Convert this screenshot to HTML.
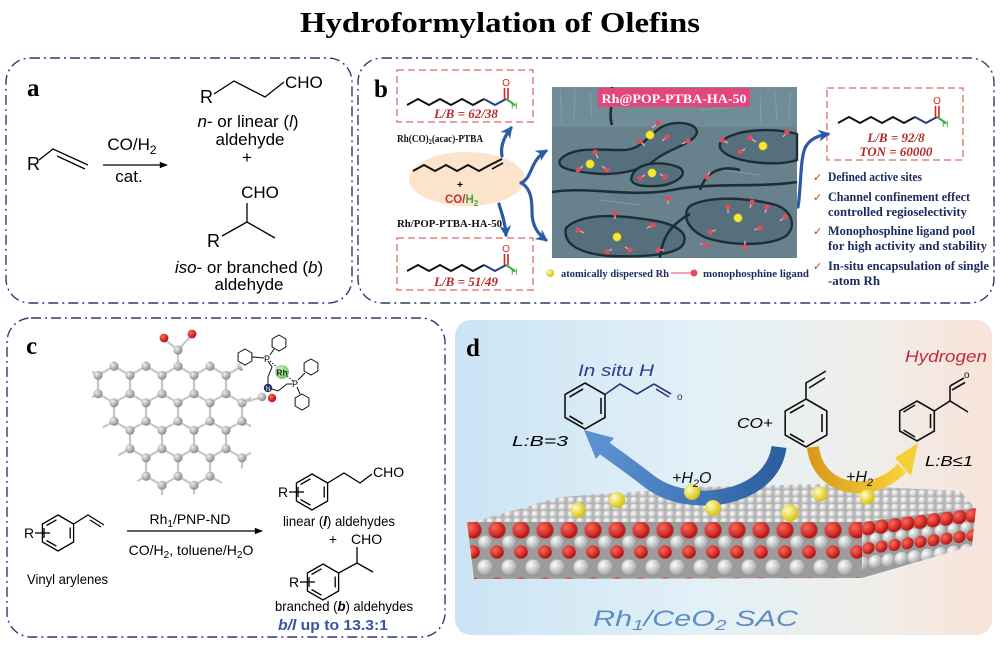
<!DOCTYPE html>
<html><head><meta charset="utf-8"><style>
html,body{margin:0;padding:0;background:#fff;}
svg{display:block;}
text{font-family:"Liberation Sans",Arial,sans-serif;}
.sf{font-family:"Liberation Serif","Times New Roman",serif;font-weight:bold;}
.it{font-style:italic;}
</style></head><body>
<svg width="1000" height="645" viewBox="0 0 1000 645" xmlns="http://www.w3.org/2000/svg">
<defs>
 <marker id="ablk" viewBox="0 0 10 10" refX="9" refY="5" markerWidth="10" markerHeight="8" markerUnits="userSpaceOnUse" orient="auto"><path d="M0,1 L10,5 L0,9 Z" fill="#000"/></marker>
 <marker id="ablu" viewBox="0 0 10 10" refX="8" refY="5" markerWidth="12" markerHeight="12" markerUnits="userSpaceOnUse" orient="auto"><path d="M0,0 L10,5 L0,10 L3,5 Z" fill="#2d5aa5"/></marker>
 <radialGradient id="gC" cx="0.35" cy="0.35" r="0.7"><stop offset="0" stop-color="#eeeeee"/><stop offset="1" stop-color="#858585"/></radialGradient>
 <radialGradient id="gW" cx="0.35" cy="0.35" r="0.7"><stop offset="0" stop-color="#ffffff"/><stop offset="1" stop-color="#a4a4a4"/></radialGradient>
 <radialGradient id="gR" cx="0.35" cy="0.35" r="0.7"><stop offset="0" stop-color="#ff6a5a"/><stop offset="1" stop-color="#b10c0c"/></radialGradient>
 <radialGradient id="gY" cx="0.35" cy="0.35" r="0.7"><stop offset="0" stop-color="#fffcc0"/><stop offset="1" stop-color="#d6be00"/></radialGradient>
 <radialGradient id="gG" cx="0.4" cy="0.4" r="0.7"><stop offset="0" stop-color="#d8f7c8"/><stop offset="1" stop-color="#5cc24a"/></radialGradient>
 <linearGradient id="bgd" x1="0" x2="1" y1="0" y2="0">
  <stop offset="0" stop-color="#cbe4f4"/><stop offset="0.45" stop-color="#e2f0f7"/><stop offset="0.75" stop-color="#efefec"/><stop offset="1" stop-color="#f8e3d8"/>
 </linearGradient>
 <linearGradient id="blueA" x1="0" x2="1"><stop offset="0" stop-color="#5a90d0"/><stop offset="1" stop-color="#2b5f9f"/></linearGradient>
 <linearGradient id="yelA" x1="0" x2="1"><stop offset="0" stop-color="#d99a1c"/><stop offset="1" stop-color="#f7d23a"/></linearGradient>
 <pattern id="graph" x="162" y="357" width="32" height="55" patternUnits="userSpaceOnUse">
  <g stroke="#c6c6c6" stroke-width="2.2">
   <line x1="16" y1="0" x2="16" y2="9.2"/><line x1="16" y1="9.2" x2="0" y2="18.3"/><line x1="16" y1="9.2" x2="32" y2="18.3"/>
   <line x1="0" y1="18.3" x2="0" y2="36.7"/><line x1="32" y1="18.3" x2="32" y2="36.7"/>
   <line x1="0" y1="36.7" x2="16" y2="45.8"/><line x1="32" y1="36.7" x2="16" y2="45.8"/><line x1="16" y1="45.8" x2="16" y2="55"/>
  </g>
  <g fill="url(#gC)">
   <circle cx="16" cy="9.2" r="4.6"/><circle cx="0" cy="18.3" r="4.6"/><circle cx="32" cy="18.3" r="4.6"/>
   <circle cx="0" cy="36.7" r="4.6"/><circle cx="32" cy="36.7" r="4.6"/><circle cx="16" cy="45.8" r="4.6"/>
  </g>
 </pattern>
 <pattern id="topP" x="0" y="0" width="9" height="7" patternUnits="userSpaceOnUse">
  <rect width="9" height="7" fill="#b8b8b8"/>
  <circle cx="4.5" cy="3.5" r="4.3" fill="url(#gW)"/>
 </pattern>
 <pattern id="frontP" x="461" y="521" width="24" height="56" patternUnits="userSpaceOnUse">
  <rect width="24" height="56" fill="#9c9c9c"/>
  <circle cx="0" cy="21" r="6.5" fill="url(#gW)"/><circle cx="24" cy="21" r="6.5" fill="url(#gW)"/>
  <circle cx="0" cy="46" r="7.5" fill="url(#gW)"/><circle cx="24" cy="46" r="7.5" fill="url(#gW)"/>
  <circle cx="12" cy="31" r="6.8" fill="url(#gR)"/>
  <circle cx="12" cy="9" r="8.5" fill="url(#gR)"/>
 </pattern>
 <pattern id="sideP" x="0" y="0" width="13" height="56" patternUnits="userSpaceOnUse" patternTransform="translate(862,521) skewY(-7)">
  <rect width="13" height="56" fill="#9c9c9c"/>
  <circle cx="0" cy="19" r="5.5" fill="url(#gW)"/><circle cx="13" cy="19" r="5.5" fill="url(#gW)"/>
  <circle cx="0" cy="42" r="6.5" fill="url(#gW)"/><circle cx="13" cy="42" r="6.5" fill="url(#gW)"/>
  <circle cx="6.5" cy="28" r="6" fill="url(#gR)"/>
  <circle cx="6.5" cy="8" r="7" fill="url(#gR)"/>
 </pattern>
 <g id="chain" fill="none" stroke-width="2">
  <polyline points="0,6 11,0 22,6 33,0 44,6 55,0 66,6 77,0" stroke="#111"/>
  <polyline points="77,0 88,6 99,0" stroke="#2a3a8a"/>
  <line x1="97.5" y1="0" x2="97.5" y2="-11" stroke="#d22" stroke-width="1.6"/>
  <line x1="101" y1="0" x2="101" y2="-11" stroke="#d22" stroke-width="1.6"/>
  <line x1="99" y1="0" x2="108" y2="6" stroke="#3daa3d"/>
 </g>
</defs>

<!-- Title -->
<text x="500" y="32" text-anchor="middle" class="sf" font-size="28" textLength="400" lengthAdjust="spacingAndGlyphs">Hydroformylation of Olefins</text>

<!-- Panel frames -->
<g fill="none" stroke="#2c3b73" stroke-width="1.4" stroke-dasharray="10 4 2 4">
 <rect x="6" y="58" width="346" height="245" rx="24"/>
 <rect x="358" y="58" width="636" height="245" rx="24"/>
 <rect x="7" y="318" width="438" height="319" rx="24"/>
</g>

<!-- ===== Panel a ===== -->
<text x="27" y="96" class="sf" font-size="25">a</text>
<g stroke="#000" stroke-width="1.3" fill="none">
 <polyline points="39,160 53,149 88,165"/>
 <line x1="57" y1="156" x2="85" y2="169"/>
 <line x1="103" y1="165" x2="167" y2="165" marker-end="url(#ablk)"/>
 <polyline points="214,94 234,81 265,97 284,82"/>
 <line x1="247" y1="203" x2="247" y2="222"/>
 <line x1="247" y1="222" x2="222" y2="236"/>
 <line x1="247" y1="222" x2="275" y2="238"/>
</g>
<text x="27" y="170" font-size="18">R</text>
<text x="132" y="150" text-anchor="middle" font-size="17">CO/H<tspan dy="4" font-size="12">2</tspan></text>
<text x="129" y="182" text-anchor="middle" font-size="17">cat.</text>
<text x="200" y="103" font-size="18">R</text>
<text x="285" y="88" font-size="17">CHO</text>
<text x="248" y="127" text-anchor="middle" font-size="17"><tspan class="it">n</tspan>- or linear (<tspan class="it">l</tspan>)</text>
<text x="250" y="145" text-anchor="middle" font-size="17">aldehyde</text>
<text x="247" y="163" text-anchor="middle" font-size="17">+</text>
<text x="260" y="198" text-anchor="middle" font-size="17">CHO</text>
<text x="207" y="247" font-size="18">R</text>
<text x="249" y="273" text-anchor="middle" font-size="17"><tspan class="it">iso</tspan>- or branched (<tspan class="it">b</tspan>)</text>
<text x="249" y="290" text-anchor="middle" font-size="17">aldehyde</text>

<!-- ===== Panel b ===== -->
<text x="374" y="97" class="sf" font-size="25">b</text>
<g fill="none" stroke="#de6b66" stroke-width="1.3" stroke-dasharray="7 4">
 <rect x="397" y="70" width="136" height="52"/>
 <rect x="397" y="238" width="136" height="52"/>
 <rect x="827" y="88" width="136" height="72"/>
</g>
<use href="#chain" x="407" y="99"/>
<text x="506" y="86" text-anchor="middle" font-size="10" fill="#d22">O</text>
<text x="511" y="109" font-size="9" fill="#3daa3d">H</text>
<text x="466" y="118" text-anchor="middle" class="sf it" font-size="13" fill="#b52a2a">L/B = 62/38</text>
<text x="397" y="142" class="sf" font-size="10.5" fill="#111" textLength="86" lengthAdjust="spacingAndGlyphs">Rh(CO)<tspan dy="2" font-size="7">2</tspan><tspan dy="-2">(acac)-PTBA</tspan></text>

<ellipse cx="467" cy="179" rx="58" ry="27" fill="#fce3cb"/>
<g fill="none" stroke="#111" stroke-width="2">
 <polyline points="413,171 424,165 435,171 446,165 457,171 468,165 479,171 490,165 502,159"/>
 <line x1="492" y1="169" x2="503" y2="163" stroke-width="1.6"/>
</g>
<text x="460" y="188" text-anchor="middle" font-size="10" font-weight="bold">+</text>
<text x="445" y="203" font-size="11.5" font-weight="bold" fill="#d32a2a">CO/<tspan fill="#3daa3d">H<tspan dy="3" font-size="8">2</tspan></tspan></text>
<text x="397" y="227" class="sf" font-size="10.5" fill="#111" textLength="105" lengthAdjust="spacingAndGlyphs">Rh/POP-PTBA-HA-50</text>

<use href="#chain" x="407" y="265"/>
<text x="506" y="252" text-anchor="middle" font-size="10" fill="#d22">O</text>
<text x="511" y="275" font-size="9" fill="#3daa3d">H</text>
<text x="466" y="286" text-anchor="middle" class="sf it" font-size="13" fill="#b52a2a">L/B = 51/49</text>

<!-- blue arrows -->
<g fill="none" stroke="#2d5aa5" stroke-width="3.2" stroke-linecap="round">
 <path d="M502,156 C500,145 505,136 511,128" marker-end="url(#ablu)"/>
 <path d="M499,204 C502,214 505,222 506,235" marker-end="url(#ablu)"/>
 <path d="M521,183 C528,180 530,172 534,164 C537,158 541,154 546,151" marker-end="url(#ablu)"/>
 <path d="M523,184 C531,190 532,200 532,212 C532,226 538,234 546,240" marker-end="url(#ablu)"/>
 <path d="M798,207 C801,190 800,160 805,148 C809,140 816,136 828,134" marker-end="url(#ablu)"/>
</g>

<!-- SEM-like image -->
<rect x="552" y="87" width="245" height="171" fill="#67828d"/>
<rect x="552" y="87" width="245" height="40" fill="#73909a" opacity="0.8"/>
<g stroke="#8fa9b2" stroke-width="1" opacity="0.6">
 <line x1="560" y1="90" x2="562" y2="125"/><line x1="575" y1="90" x2="574" y2="120"/><line x1="590" y1="92" x2="592" y2="118"/>
 <line x1="760" y1="92" x2="761" y2="125"/><line x1="775" y1="90" x2="777" y2="122"/><line x1="790" y1="92" x2="789" y2="120"/>
 <line x1="700" y1="110" x2="730" y2="108"/><line x1="600" y1="200" x2="640" y2="205"/><line x1="720" y1="170" x2="760" y2="175"/>
</g>
<g fill="#55707c" stroke="#1f2d36" stroke-width="2.4">
 <path d="M560,160 C572,146 600,150 620,150 C640,151 646,138 660,128 C676,118 702,124 696,135 C688,146 666,150 655,160 C640,172 612,176 590,173 C574,171 556,169 560,160 Z"/>
 <path d="M632,176 C636,162 664,160 680,168 C690,175 672,186 656,186 C640,187 628,184 632,176 Z"/>
 <path d="M722,141 C738,128 775,128 797,134 L797,160 C780,166 750,163 735,158 C723,154 716,147 722,141 Z"/>
 <path d="M566,228 C582,212 620,215 650,220 C672,223 692,232 682,246 C672,256 640,257 610,256 C584,254 562,246 566,228 Z"/>
 <path d="M690,206 C710,195 750,198 776,205 C792,211 797,226 786,236 C770,246 735,246 710,239 C690,233 680,216 690,206 Z"/>
</g>
<g fill="none" stroke="#1f2d36" stroke-width="2.6">
 <path d="M552,192 C590,186 630,198 672,190 C712,182 758,188 797,182"/>
 <path d="M700,190 C706,172 720,165 740,170"/>
 <path d="M660,258 C662,240 668,226 690,214"/>
 <path d="M612,87 C614,100 608,112 612,125"/>
</g>
<g stroke="#f0a0b0" stroke-width="1.4">
 <line x1="652" y1="128" x2="658" y2="123"/><line x1="645" y1="146" x2="640" y2="141"/><line x1="662" y1="141" x2="667" y2="137"/>
 <line x1="682" y1="144" x2="688" y2="141"/><line x1="598" y1="158" x2="595" y2="152"/><line x1="583" y1="166" x2="578" y2="170"/>
 <line x1="602" y1="166" x2="607" y2="170"/><line x1="645" y1="175" x2="640" y2="178"/><line x1="660" y1="174" x2="665" y2="177"/>
 <line x1="710" y1="172" x2="707" y2="177"/><line x1="728" y1="143" x2="722" y2="140"/><line x1="756" y1="142" x2="750" y2="138"/>
 <line x1="745" y1="149" x2="740" y2="152"/><line x1="783" y1="137" x2="787" y2="132"/><line x1="668" y1="204" x2="668" y2="198"/>
 <line x1="728" y1="213" x2="728" y2="207"/><line x1="750" y1="208" x2="752" y2="202"/><line x1="765" y1="213" x2="767" y2="207"/>
 <line x1="780" y1="221" x2="785" y2="217"/><line x1="615" y1="219" x2="615" y2="213"/><line x1="584" y1="233" x2="578" y2="230"/>
 <line x1="647" y1="228" x2="653" y2="225"/><line x1="664" y1="250" x2="658" y2="250"/><line x1="612" y1="249" x2="607" y2="252"/>
 <line x1="625" y1="247" x2="630" y2="250"/><line x1="716" y1="230" x2="710" y2="232"/><line x1="754" y1="230" x2="760" y2="228"/>
 <line x1="745" y1="241" x2="745" y2="247"/><line x1="700" y1="244" x2="705" y2="245"/>
</g>
<g fill="#e04c5c">
 <circle cx="658" cy="123" r="2.6"/><circle cx="640" cy="141" r="2.6"/><circle cx="667" cy="137" r="2.6"/><circle cx="688" cy="141" r="2.6"/>
 <circle cx="595" cy="152" r="2.6"/><circle cx="578" cy="170" r="2.6"/><circle cx="607" cy="170" r="2.6"/><circle cx="640" cy="178" r="2.6"/>
 <circle cx="665" cy="177" r="2.6"/><circle cx="707" cy="177" r="2.6"/><circle cx="722" cy="140" r="2.6"/><circle cx="750" cy="138" r="2.6"/>
 <circle cx="740" cy="152" r="2.6"/><circle cx="787" cy="132" r="2.6"/><circle cx="668" cy="198" r="2.6"/><circle cx="728" cy="207" r="2.6"/>
 <circle cx="752" cy="202" r="2.6"/><circle cx="767" cy="207" r="2.6"/><circle cx="785" cy="217" r="2.6"/><circle cx="615" cy="213" r="2.6"/>
 <circle cx="578" cy="230" r="2.6"/><circle cx="653" cy="225" r="2.6"/><circle cx="658" cy="250" r="2.6"/><circle cx="607" cy="252" r="2.6"/>
 <circle cx="630" cy="250" r="2.6"/><circle cx="710" cy="232" r="2.6"/><circle cx="760" cy="228" r="2.6"/><circle cx="745" cy="247" r="2.6"/>
 <circle cx="705" cy="245" r="2.6"/>
</g>
<g fill="#f4e83a" stroke="#c9b800" stroke-width="0.6">
 <circle cx="650" cy="135" r="4.2"/><circle cx="590" cy="164" r="4.2"/><circle cx="652" cy="173" r="4.2"/>
 <circle cx="763" cy="146" r="4.2"/><circle cx="617" cy="237" r="4.2"/><circle cx="738" cy="218" r="4.2"/>
</g>
<rect x="598" y="88" width="152" height="19" fill="#e3467c"/>
<text x="674" y="103" text-anchor="middle" class="sf" font-size="13" fill="#fff" textLength="145" lengthAdjust="spacingAndGlyphs">Rh@POP-PTBA-HA-50</text>

<!-- legend -->
<circle cx="550" cy="273" r="4" fill="url(#gY)"/>
<text x="561" y="277" class="sf" font-size="10.5" fill="#1c2a5e" textLength="108" lengthAdjust="spacingAndGlyphs">atomically dispersed Rh</text>
<line x1="671" y1="273" x2="692" y2="273" stroke="#e88a9a" stroke-width="1.4"/>
<circle cx="694" cy="273" r="3.5" fill="#e04c5c"/>
<text x="703" y="277" class="sf" font-size="10.5" fill="#1c2a5e" textLength="106" lengthAdjust="spacingAndGlyphs">monophosphine ligand</text>

<!-- right box -->
<use href="#chain" x="838" y="117"/>
<text x="937" y="104" text-anchor="middle" font-size="10" fill="#d22">O</text>
<text x="942" y="127" font-size="9" fill="#3daa3d">H</text>
<text x="896" y="142" text-anchor="middle" class="sf it" font-size="13" fill="#b52a2a">L/B = 92/8</text>
<text x="896" y="156" text-anchor="middle" class="sf it" font-size="13" fill="#b52a2a">TON = 60000</text>

<g font-family="DejaVu Sans, sans-serif" font-size="11" fill="#c0392b">
 <text x="813" y="181" font-family="DejaVu Sans, sans-serif">✓</text>
 <text x="813" y="201" font-family="DejaVu Sans, sans-serif">✓</text>
 <text x="813" y="235" font-family="DejaVu Sans, sans-serif">✓</text>
 <text x="813" y="270" font-family="DejaVu Sans, sans-serif">✓</text>
</g>
<g class="sf" font-size="12.5" fill="#1f2a60">
 <text x="828" y="181" class="sf" textLength="94" lengthAdjust="spacingAndGlyphs">Defined active sites</text>
 <text x="828" y="201" class="sf" textLength="142" lengthAdjust="spacingAndGlyphs">Channel confinement effect</text>
 <text x="828" y="216" class="sf" textLength="139" lengthAdjust="spacingAndGlyphs">controlled regioselectivity</text>
 <text x="828" y="235" class="sf" textLength="147" lengthAdjust="spacingAndGlyphs">Monophosphine ligand pool</text>
 <text x="828" y="250" class="sf" textLength="159" lengthAdjust="spacingAndGlyphs">for high activity and stability</text>
 <text x="828" y="270" class="sf" textLength="161" lengthAdjust="spacingAndGlyphs">In-situ encapsulation of single</text>
 <text x="828" y="285" class="sf" textLength="52" lengthAdjust="spacingAndGlyphs">-atom Rh</text>
</g>

<!-- ===== Panel c ===== -->
<text x="26" y="354" class="sf" font-size="25">c</text>
<polygon points="92,361 240,361 251,395 251,462 220,484 192,495 158,495 138,482 120,458 104,430 92,408" fill="url(#graph)"/>
<g stroke="#c6c6c6" stroke-width="2.2">
 <line x1="178" y1="350" x2="178" y2="366"/><line x1="178" y1="350" x2="164" y2="339"/><line x1="178" y1="350" x2="192" y2="335"/>
 <line x1="242" y1="403" x2="262" y2="397"/>
</g>
<circle cx="178" cy="350" r="4.6" fill="url(#gC)"/>
<circle cx="164" cy="338" r="4.4" fill="url(#gR)"/>
<circle cx="192" cy="334" r="4.4" fill="url(#gR)"/>
<!-- ligand -->
<g fill="none" stroke="#111" stroke-width="1">
 <polygon points="245,349 251.9,353 251.9,361 245,365 238.1,361 238.1,353"/>
 <polygon points="279,335 285.9,339 285.9,347 279,351 272.1,347 272.1,339"/>
 <polygon points="311,359 317.9,363 317.9,371 311,375 304.1,371 304.1,363"/>
 <polygon points="302,394 308.9,398 308.9,406 302,410 295.1,406 295.1,398"/>
 <line x1="252" y1="357" x2="264" y2="358"/><line x1="270" y1="355" x2="274" y2="349"/>
 <polyline points="268,361 272,367 268,377 268,384"/>
 <polyline points="272,389 278,391 287,384 292,384"/>
 <line x1="298" y1="380" x2="305" y2="373"/><line x1="297" y1="387" x2="300" y2="394"/>
 <line x1="270" y1="361" x2="278" y2="368" stroke-dasharray="1.5 1.5"/>
 <line x1="287" y1="376" x2="293" y2="381" stroke-dasharray="1.5 1.5"/>
</g>
<text x="264" y="362" font-size="9">P</text>
<text x="292" y="387" font-size="9">P</text>
<circle cx="282" cy="372" r="7" fill="url(#gG)"/>
<text x="282" y="375.5" text-anchor="middle" font-size="8.5" font-weight="bold" fill="#222">Rh</text>
<circle cx="262" cy="397" r="4.2" fill="url(#gC)"/>
<circle cx="272" cy="398" r="4.2" fill="url(#gR)"/>
<circle cx="268" cy="388" r="4.2" fill="#24305e"/>
<text x="268" y="391" text-anchor="middle" font-size="7" fill="#dde">N</text>

<!-- reaction c -->
<g fill="none" stroke="#000" stroke-width="1.3">
 <polygon points="58,515 73.6,524 73.6,542 58,551 42.4,542 42.4,524"/>
 <line x1="70.2" y1="527.5" x2="70.2" y2="538.5"/><line x1="56.5" y1="546.2" x2="46.5" y2="540.5"/><line x1="46.5" y1="525.5" x2="56.5" y2="519.8"/>
 <line x1="35" y1="533" x2="50" y2="533"/><line x1="44" y1="528" x2="44" y2="538"/>
 <polyline points="73.6,524 88,515 104,525"/><line x1="90" y1="520" x2="101" y2="527"/>
 <line x1="127" y1="531" x2="262" y2="531" marker-end="url(#ablk)"/>
 <polygon points="312,474 327.6,483 327.6,501 312,510 296.4,501 296.4,483"/>
 <line x1="324.2" y1="486.5" x2="324.2" y2="497.5"/><line x1="310.5" y1="505.2" x2="300.5" y2="499.5"/><line x1="300.5" y1="484.5" x2="310.5" y2="478.8"/>
 <line x1="289" y1="492" x2="304" y2="492"/><line x1="298" y1="487" x2="298" y2="497"/>
 <polyline points="327.6,483 344,473 360,483 372,474"/>
 <polygon points="323,564 338.6,573 338.6,591 323,600 307.4,591 307.4,573"/>
 <line x1="335.2" y1="576.5" x2="335.2" y2="587.5"/><line x1="321.5" y1="595.2" x2="311.5" y2="589.5"/><line x1="311.5" y1="574.5" x2="321.5" y2="568.8"/>
 <line x1="300" y1="582" x2="315" y2="582"/><line x1="309" y1="577" x2="309" y2="587"/>
 <polyline points="338.6,573 357,563 373,572"/><line x1="357" y1="563" x2="357" y2="547"/>
</g>
<text x="24" y="538" font-size="14">R</text>
<text x="190" y="524" text-anchor="middle" font-size="14">Rh<tspan dy="3" font-size="10">1</tspan><tspan dy="-3">/PNP-ND</tspan></text>
<text x="191" y="555" text-anchor="middle" font-size="14">CO/H<tspan dy="3" font-size="10">2</tspan><tspan dy="-3">, toluene/H</tspan><tspan dy="3" font-size="10">2</tspan><tspan dy="-3">O</tspan></text>
<text x="27" y="584" font-size="14" textLength="81" lengthAdjust="spacingAndGlyphs">Vinyl arylenes</text>
<text x="278" y="497" font-size="14">R</text>
<text x="373" y="477" font-size="14">CHO</text>
<text x="283" y="526" font-size="14" textLength="112" lengthAdjust="spacingAndGlyphs">linear (<tspan class="it" font-weight="bold">l</tspan>) aldehydes</text>
<text x="333" y="544" text-anchor="middle" font-size="14">+</text>
<text x="351" y="544" font-size="14">CHO</text>
<text x="289" y="587" font-size="14">R</text>
<text x="275" y="611" font-size="14" textLength="138" lengthAdjust="spacingAndGlyphs">branched (<tspan class="it" font-weight="bold">b</tspan>) aldehydes</text>
<text x="278" y="630" font-size="15" font-weight="bold" fill="#3a52a3" textLength="110" lengthAdjust="spacingAndGlyphs"><tspan class="it">b/l</tspan> up to 13.3:1</text>

<!-- ===== Panel d ===== -->
<rect x="455" y="320" width="537" height="315" rx="16" fill="url(#bgd)"/>
<text x="466" y="356" class="sf" font-size="25">d</text>
<text x="578" y="376" class="it" font-size="17" fill="#2b3d8f" textLength="76" lengthAdjust="spacingAndGlyphs">In situ H</text>
<text x="905" y="362" class="it" font-size="17" fill="#c82a3a" textLength="82" lengthAdjust="spacingAndGlyphs">Hydrogen</text>

<!-- slab -->
<polygon points="467,524 560,497 700,487 820,484 960,491 975,508 862,522" fill="url(#topP)"/>
<polygon points="467,522 862,522 862,578 474,579" fill="url(#frontP)"/>
<polygon points="862,522 976,508 972,546 862,578" fill="url(#sideP)"/>

<!-- molecules d -->
<g fill="none" stroke="#111" stroke-width="1.6">
 <polygon points="585,383 605,394.5 605,417.5 585,429 565,417.5 565,394.5"/>
 <line x1="601" y1="398" x2="601" y2="414"/><line x1="583" y1="424" x2="569.5" y2="416"/><line x1="569.5" y1="397" x2="583" y2="389"/>
 <polygon points="806,399 826.8,411 826.8,435 806,447 785.2,435 785.2,411"/>
 <line x1="822" y1="414" x2="822" y2="432"/><line x1="804" y1="442" x2="790" y2="434"/><line x1="790" y1="413" x2="804" y2="405"/>
 <polyline points="806,399 806,383 826,371"/><line x1="809" y1="388" x2="825" y2="378"/>
 <polygon points="917,401 934.3,411 934.3,431 917,441 899.7,431 899.7,411"/>
 <line x1="930.5" y1="414" x2="930.5" y2="428"/><line x1="915" y1="437" x2="903.5" y2="430"/><line x1="903.5" y1="412" x2="915" y2="405"/>
 <polyline points="934.3,411 950,401 968,412"/><line x1="950" y1="401" x2="950" y2="386"/>
 <line x1="950" y1="386" x2="964" y2="378"/><line x1="952" y1="390" x2="965" y2="382.5"/>
</g>
<g fill="none" stroke="#2a3575" stroke-width="1.6">
 <polyline points="605,394.5 620,384 637,394 654,384"/>
 <line x1="654" y1="384" x2="671" y2="394"/><line x1="656" y1="389" x2="669" y2="397"/>
</g>
<text x="677" y="400" font-size="10" fill="#2a3575">o</text>
<text x="964" y="378" font-size="10" fill="#111">o</text>
<text x="512" y="446" class="it" font-size="15" textLength="56" lengthAdjust="spacingAndGlyphs">L:B=3</text>
<text x="737" y="428" class="it" font-size="15" textLength="36" lengthAdjust="spacingAndGlyphs">CO+</text>
<text x="925" y="466" class="it" font-size="15" textLength="48" lengthAdjust="spacingAndGlyphs">L:B≤1</text>

<!-- arrows d -->
<path d="M779,447 C772,500 690,512 650,482 C632,468 618,458 604,448" fill="none" stroke="url(#blueA)" stroke-width="15"/>
<polygon points="584,430 614,438 596,459" fill="#5a90d0"/>
<path d="M813,447 C818,492 872,500 902,468" fill="none" stroke="url(#yelA)" stroke-width="12"/>
<polygon points="918,443 895,458 911,476" fill="#f5cf36"/>

<!-- Rh atoms -->
<g fill="url(#gY)">
 <circle cx="578" cy="510" r="7.5"/><circle cx="617" cy="500" r="8"/><circle cx="692" cy="492" r="8"/>
 <circle cx="713" cy="508" r="8"/><circle cx="790" cy="513" r="8.5"/><circle cx="820" cy="494" r="7.5"/><circle cx="867" cy="497" r="7.5"/>
</g>

<text x="672" y="483" class="it" font-size="16" fill="#111">+H<tspan dy="4" font-size="11">2</tspan><tspan dy="-4">O</tspan></text>
<text x="846" y="482" class="it" font-size="16" fill="#111">+H<tspan dy="4" font-size="11">2</tspan></text>
<text x="593" y="626" class="it" font-size="22" fill="#5b8fc4" textLength="205" lengthAdjust="spacingAndGlyphs">Rh<tspan dy="4" font-size="15">1</tspan><tspan dy="-4">/CeO</tspan><tspan dy="4" font-size="15">2</tspan><tspan dy="-4"> SAC</tspan></text>
</svg>
</body></html>
